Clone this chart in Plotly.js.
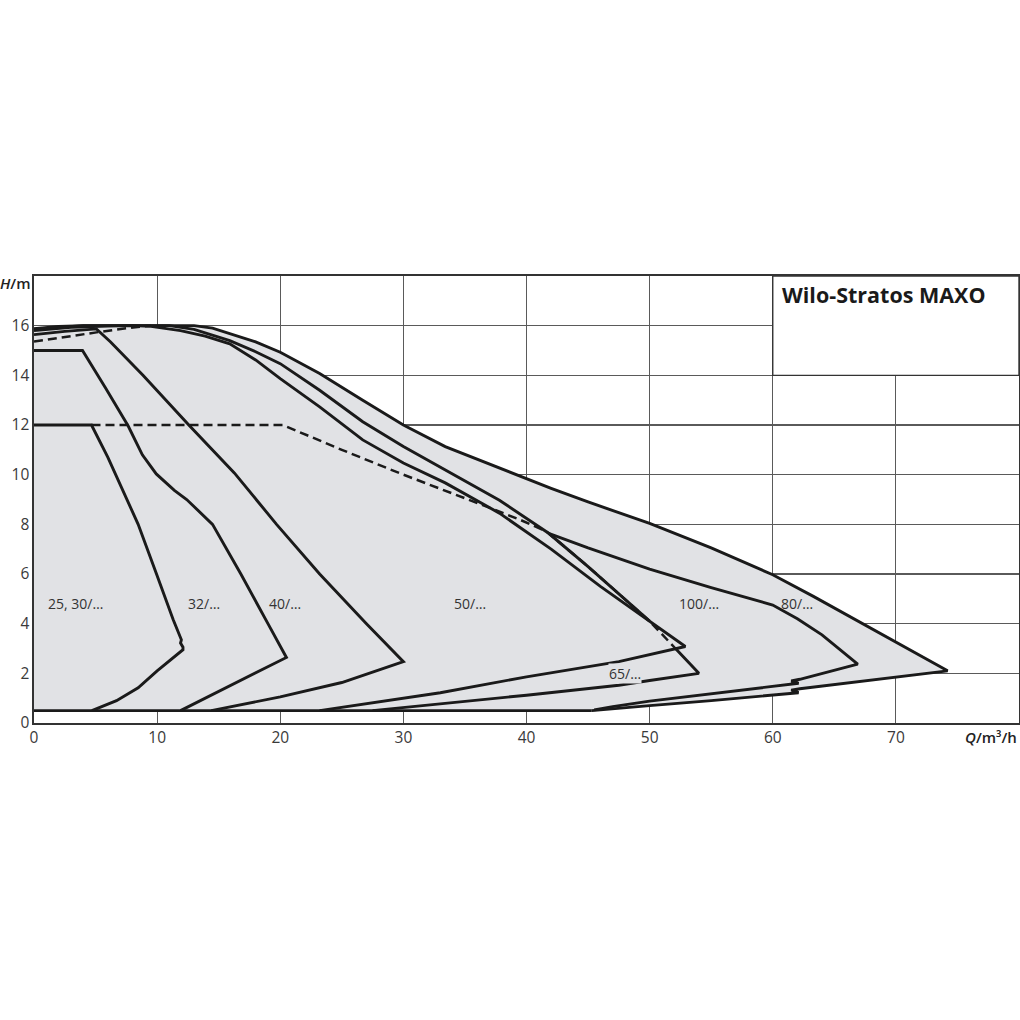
<!DOCTYPE html>
<html>
<head>
<meta charset="utf-8">
<script src="https://cdn.plot.ly/plotly-3.0.1.min.js"></script>
<style>html,body{margin:0;padding:0;background:#fff;}#chart{width:1020px;height:1020px;}</style>
</head>
<body>
<div id="chart"></div>
<script>
// ---- tick values ----
const xTicks = [0, 10, 20, 30, 40, 50, 60, 70];
const yTicks = [0, 2, 4, 6, 8, 10, 12, 14, 16];

// ---- curve data (Q in m³/h, H in m) ----
// 80/... outer max curve + return
const q80 = [0, 2, 4, 13, 14.5, 15.9, 18, 20, 23.2, 26.7, 30, 33.4, 36.1, 39.4, 42, 45, 50, 55, 60, 63.3, 68.6, 74.2,
             62.2, 61.5, 62.1, 60, 55, 50, 47, 45.3];
const h80 = [15.88, 15.97, 16, 16, 15.9, 15.67, 15.35, 14.93, 14.07, 13.0, 12.0, 11.13, 10.6, 9.93, 9.45, 8.9, 8.04, 7.05, 5.97, 5.1, 3.64, 2.1,
             1.38, 1.32, 1.22, 1.12, 0.9, 0.7, 0.58, 0.5];

// 65/... max curve (first part)
const q65a = [0, 2.5, 4, 6, 11, 13, 15.9, 18, 20, 23.2, 26.7, 30, 33.4, 37.8, 41.8, 45, 50];
const h65a = [15.86, 15.96, 16, 16, 16, 15.85, 15.4, 14.95, 14.47, 13.4, 12.13, 11.13, 10.2, 8.97, 7.64, 6.3, 4.1];
// 65/... tip and return
const q65b = [52.1, 54, 50, 47.5, 40, 33, 27.5];
const h65b = [3.0, 2.0, 1.71, 1.52, 1.12, 0.77, 0.5];

// 100/... branch + return
const q100 = [41.8, 45, 50, 55, 60, 62, 64, 66.9, 62.2, 61.5, 62.1, 60, 55, 50, 47, 45.5];
const h100 = [7.64, 7.05, 6.2, 5.45, 4.75, 4.2, 3.55, 2.37, 1.76, 1.69, 1.6, 1.47, 1.18, 0.88, 0.66, 0.53];

// 50/...
const q50 = [0, 3, 6, 8, 9.5, 11.9, 13.9, 15.9, 18, 20, 23.2, 26.7, 30, 33.4, 37.8, 42, 46, 50, 52.9, 47.5, 40, 33, 23.2];
const h50 = [15.8, 15.93, 15.98, 16, 15.97, 15.8, 15.58, 15.27, 14.62, 13.87, 12.73, 11.4, 10.47, 9.67, 8.45, 7.0, 5.5, 4.1, 3.08, 2.47, 1.86, 1.22, 0.5];

// 40/...
const q40 = [0, 2.5, 5.07, 6.2, 8.85, 12.63, 16.27, 19.7, 23.2, 27.0, 30.0, 25, 20, 14.4];
const h40 = [15.64, 15.77, 15.87, 15.35, 14, 11.97, 10.07, 8, 6, 4, 2.47, 1.63, 1.05, 0.5];

// 32/...
const q32 = [0, 3.94, 5.8, 7.64, 8.8, 9.93, 11.4, 12.4, 14.5, 16.8, 19.0, 20.5, 11.9];
const h32 = [15, 15, 13.5, 11.97, 10.8, 10.03, 9.37, 9.0, 8, 6, 4, 2.64, 0.5];

// 25, 30/...
const q25 = [0, 4.67, 6.0, 7.24, 8.46, 9.95, 11.3, 11.97, 11.9, 12.1, 12.1, 10, 8.46, 6.7, 4.7];
const h25 = [12, 12, 10.7, 9.37, 8, 6, 4.17, 3.35, 3.22, 3.05, 2.95, 2.1, 1.42, 0.9, 0.5];

// minimum head line
const qBase = [0, 45.3];
const hBase = [0.5, 0.5];

// dashed curves
const qDashTop = [0, 2.5, 5.07, 8.04, 9.5];
const hDashTop = [15.36, 15.55, 15.73, 15.93, 16];
const qDashMid = [4.67, 20.2, 25, 30, 35, 39.4, 41.6, 45, 50, 52.1];
const hDashMid = [12, 12, 11.0, 10.0, 9.05, 8.2, 7.72, 6.3, 4.1, 3.0];

// family labels
const labelText = ['25, 30/…', '32/…', '40/…', '50/…', '100/…', '80/…', '65/…'];
const labelQ = [3.4, 13.8, 20.4, 35.4, 54.0, 62.0, 48.0];
const labelH = [4.8, 4.8, 4.8, 4.8, 4.8, 4.8, 2.0];
const labelOnGrid = [false, false, true, false, false, false, true];

const title = 'Wilo-Stratos MAXO';

// ---- styling ----
const FILL = '#e1e2e5';
const INK = '#1a1a1a';
const LW = 2.9;

const fillQ = q80.concat(qBase.slice().reverse());
const fillH = h80.concat(hBase.slice().reverse());

function solid(x, y) {
  return {x: x, y: y, type: 'scatter', mode: 'lines', hoverinfo: 'skip',
          line: {color: INK, width: LW}, showlegend: false};
}
function dashed(x, y) {
  return {x: x, y: y, type: 'scatter', mode: 'lines', hoverinfo: 'skip',
          line: {color: INK, width: 2.5, dash: '9px,5px'}, showlegend: false};
}

const traces = [
  {x: fillQ, y: fillH, type: 'scatter', mode: 'lines', fill: 'toself', fillcolor: FILL,
   line: {width: 0, color: FILL}, hoverinfo: 'skip', showlegend: false},
  solid(qBase, hBase),
  solid(q25, h25),
  solid(q32, h32),
  solid(q40, h40),
  solid(q50, h50),
  solid(q65a, h65a),
  solid(q65b, h65b),
  solid(q100, h100),
  solid(q80, h80),
  dashed(qDashTop, hDashTop),
  dashed(qDashMid, hDashMid)
];

const annotations = labelText.map((t, i) => {
  const a = {
    x: labelQ[i], y: labelH[i], xref: 'x', yref: 'y', text: t, showarrow: false,
    font: {family: 'Open Sans, sans-serif', size: 14, color: '#333'},
    borderpad: 0, xanchor: 'center', yanchor: 'middle'
  };
  if (labelOnGrid[i]) a.bgcolor = FILL;
  return a;
});
annotations.push({
  x: 60.6, y: 17.25, xref: 'x', yref: 'y', text: title, showarrow: false,
  xanchor: 'left', yanchor: 'middle',
  font: {family: 'Open Sans, sans-serif', size: 21.5, color: '#1a1a1a', weight: 700}
});
annotations.push({
  x: -0.019, y: 0.984, xref: 'paper', yref: 'paper', text: '<i>H</i>/m', showarrow: false,
  xanchor: 'center', yanchor: 'middle',
  font: {family: 'Open Sans, sans-serif', size: 15, color: '#222', weight: 600}
});
annotations.push({
  x: 1.0, y: -0.032, xref: 'paper', yref: 'paper', text: '<i>Q</i>/m³/h', showarrow: false,
  xanchor: 'right', yanchor: 'middle',
  font: {family: 'Open Sans, sans-serif', size: 15, color: '#222', weight: 600}
});

const axisFont = {family: 'Open Sans, sans-serif', size: 15.5, color: '#3a3a3a'};

const layout = {
  width: 1020, height: 1020,
  margin: {l: 34, r: 1, t: 276, b: 297, pad: 0},
  paper_bgcolor: '#ffffff', plot_bgcolor: '#ffffff',
  showlegend: false,
  xaxis: {range: [0, 80], tickvals: xTicks, ticktext: xTicks.map(String),
          showgrid: true, gridcolor: '#5a5a5a', gridwidth: 1.2, zeroline: false,
          showline: true, mirror: true, linecolor: '#333', linewidth: 1.6,
          ticks: '', tickfont: axisFont, fixedrange: true},
  yaxis: {range: [0, 18], tickvals: yTicks, ticktext: yTicks.map(String),
          showgrid: true, gridcolor: '#5a5a5a', gridwidth: 1.2, zeroline: false,
          showline: true, mirror: true, linecolor: '#333', linewidth: 1.6,
          ticks: '', tickfont: axisFont, fixedrange: true},
  shapes: [
    {type: 'rect', xref: 'x', yref: 'y', x0: 60, x1: 80, y0: 14, y1: 18,
     fillcolor: '#ffffff', line: {color: '#333', width: 1.4}, layer: 'above'}
  ],
  annotations: annotations
};

Plotly.newPlot('chart', traces, layout, {staticPlot: true, displayModeBar: false});
</script>
</body>
</html>
